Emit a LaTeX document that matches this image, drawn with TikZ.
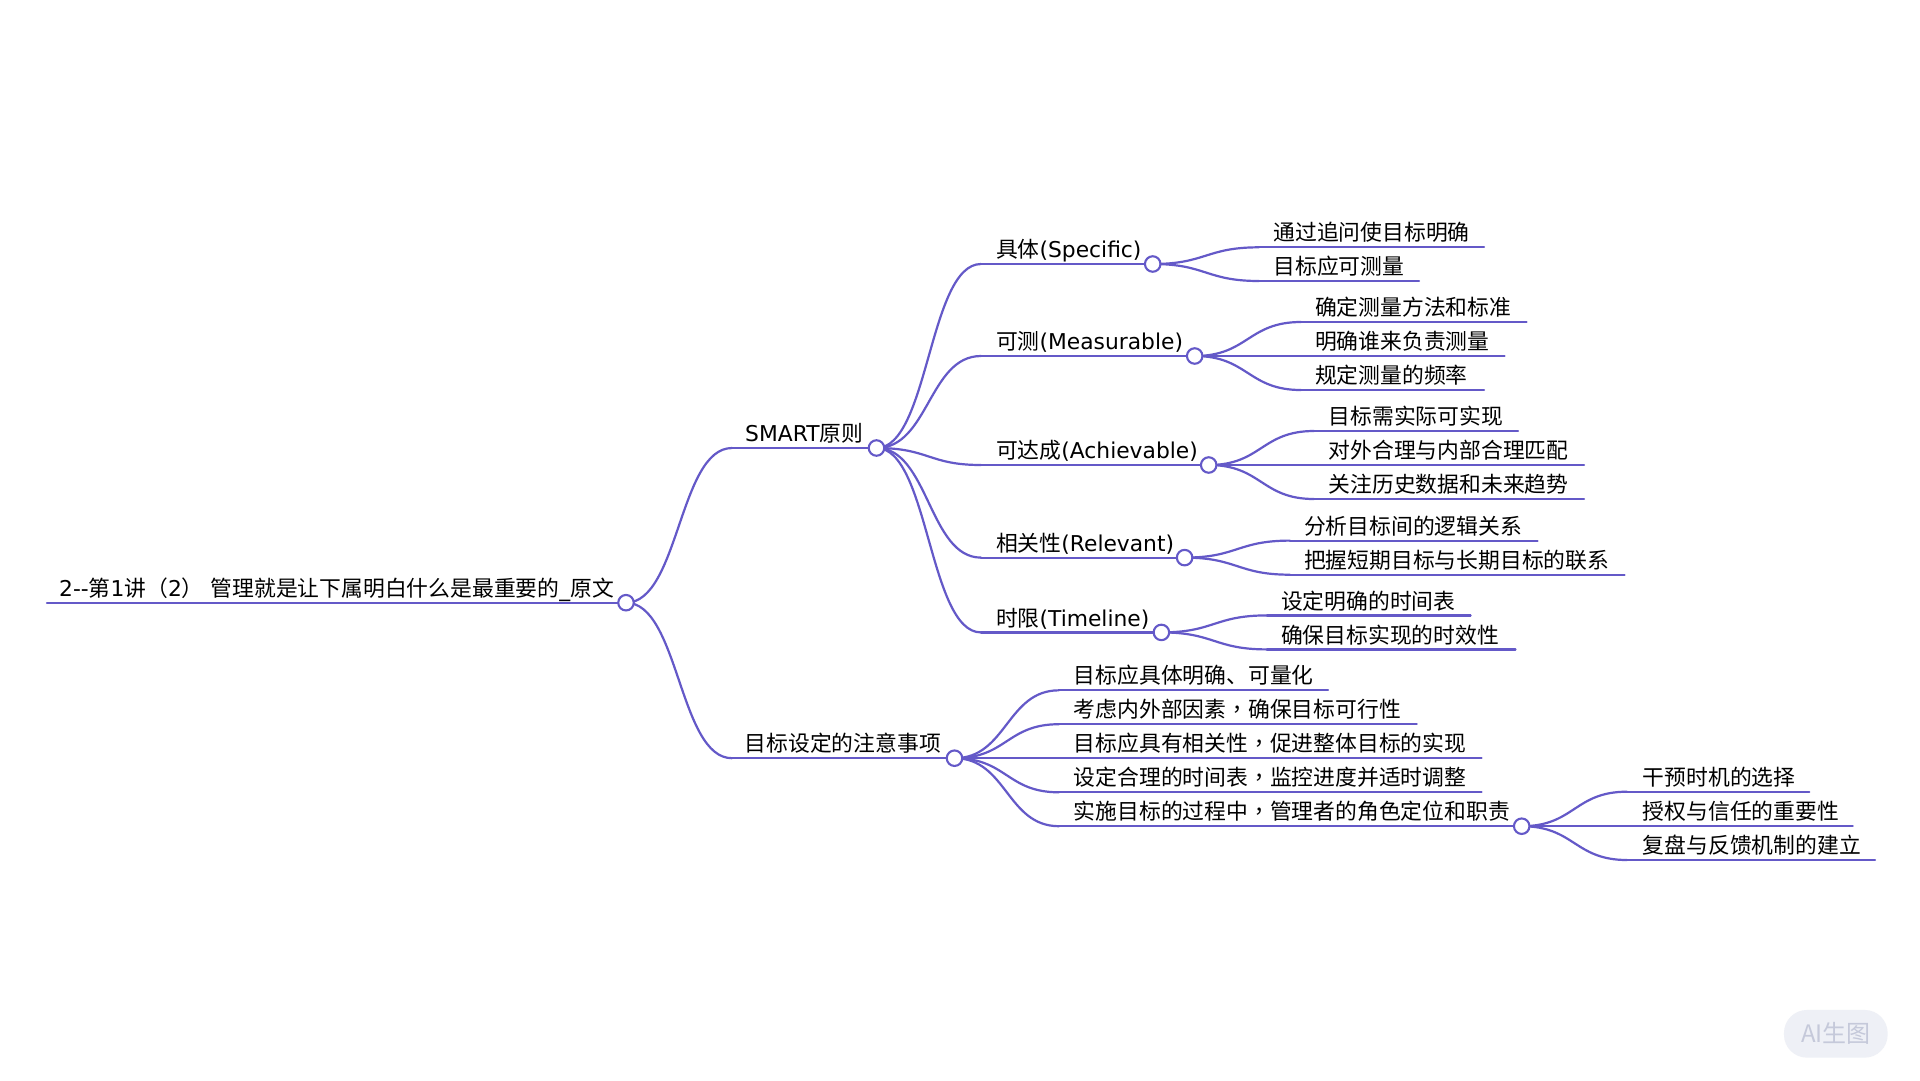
\documentclass[tikz,border=0pt]{standalone}
\usepackage{fontspec}
\usetikzlibrary{calc,backgrounds}
\setmainfont{DejaVu Sans}
\newfontfamily\cjk{Noto Sans CJK SC}
\newfontfamily\cjktc{Noto Sans CJK TC}
\newcommand{\Z}[1]{{\cjk #1}}
\newcommand{\CM}{{\cjktc ，}}
\definecolor{mmline}{HTML}{6459C8}
\definecolor{pillfill}{HTML}{EEF0F6}
\definecolor{pilltext}{HTML}{C5C9DA}
\tikzset{
  branch/.style={draw=mmline,line width=2.2pt,line cap=round},
  dotnode/.style={circle,draw=mmline,line width=2.1pt,fill=white,minimum size=15.5pt,inner sep=0pt},
  label/.style={anchor=base west,inner sep=0pt,font=\fontsize{21.8pt}{24pt}\selectfont,text=black},
  pill/.style={rounded corners=23pt,fill=pillfill,minimum width=103.7pt,minimum height=47.7pt,inner sep=0pt},
  pilllabel/.style={font=\fontsize{24pt}{26pt}\selectfont,text=pilltext}
}
% #1 name, #2 line start x, #3 text x, #4 line end x, #5 y, #6 text
\newcommand{\leafnode}[6]{%
  \coordinate (#1-s) at (#2,#5);
  \coordinate (#1-e) at (#4,#5);
  \node[label] (#1) at (#3,#5-6.4) {#6};
  \draw[branch] (#1-s) -- (#1-e);
}
% branch with a circle: #4 = circle centre x
\newcommand{\hubnode}[6]{%
  \coordinate (#1-s) at (#2,#5);
  \node[dotnode] (#1-c) at (#4,#5) {};
  \node[label] (#1) at (#3,#5-6.4) {#6};
  \begin{pgfonlayer}{background}
  \draw[branch] (#1-s) -- (#1-c.center);
  \end{pgfonlayer}
}
% #1 parent hub, #2 child; the curve leaves from under the parent's circle
\newcommand{\linkto}[2]{%
  \begin{pgfonlayer}{background}
  \draw[branch] let \p1=(#1-c.center), \p2=(#2-s) in
    (\p1) .. controls ({0.5*\x1+0.5*\x2},\y1) and ({0.5*\x1+0.5*\x2},\y2) .. (\p2);
  \end{pgfonlayer}
}
\begin{document}
\begin{tikzpicture}[x=1pt,y=-1pt]
\useasboundingbox (0,0) rectangle (1920,1080);
\begin{pgfonlayer}{background}
\fill[white] (0,0) rectangle (1920,1080);
\end{pgfonlayer}

\hubnode{root}{47}{59}{626}{602.7}{2-{}-\Z{第}1\Z{讲（}2\Z{）} \Z{管理就是让下属明白什么是最重要的}\_\Z{原文}}

\hubnode{smart}{732}{745}{876.5}{448}{SMART\Z{原则}}
\hubnode{note}{732}{744.5}{954.5}{758.2}{\Z{目标设定的注意事项}}

\hubnode{spec}{981}{995.8}{1152.7}{264}{\Z{具体}(Specific)}
\hubnode{meas}{981}{995.8}{1194.7}{356}{\Z{可测}(Measurable)}
\hubnode{achi}{981}{995.8}{1208.7}{465}{\Z{可达成}(Achievable)}
\hubnode{rele}{981}{995.8}{1184.6}{557.6}{\Z{相关性}(Relevant)}
\hubnode{time}{981}{995.8}{1161.4}{632.4}{\Z{时限}(Timeline)}

\leafnode{s1}{1259}{1273.3}{1484}{247.3}{\Z{通过追问使目标明确}}
\leafnode{s2}{1259}{1273.3}{1419}{281}{\Z{目标应可测量}}

\leafnode{m1}{1301}{1314.8}{1526.5}{322}{\Z{确定测量方法和标准}}
\leafnode{m2}{1301}{1314.8}{1504.5}{356}{\Z{明确谁来负责测量}}
\leafnode{m3}{1301}{1314.8}{1484}{390}{\Z{规定测量的频率}}

\leafnode{a1}{1314}{1328.5}{1518}{431}{\Z{目标需实际可实现}}
\leafnode{a2}{1314}{1328.5}{1584}{465}{\Z{对外合理与内部合理匹配}}
\leafnode{a3}{1314}{1328.5}{1584}{499}{\Z{关注历史数据和未来趋势}}

\leafnode{r1}{1290}{1303.8}{1537.5}{540.6}{\Z{分析目标间的逻辑关系}}
\leafnode{r2}{1290}{1303.8}{1624.5}{574.7}{\Z{把握短期目标与长期目标的联系}}

\leafnode{t1}{1267}{1280.8}{1470.6}{615.4}{\Z{设定明确的时间表}}
\leafnode{t2}{1267}{1280.8}{1515.5}{649.4}{\Z{确保目标实现的时效性}}

\leafnode{n1}{1059}{1073.6}{1328}{690.3}{\Z{目标应具体明确、可量化}}
\leafnode{n2}{1059}{1073.6}{1416.7}{724.2}{\Z{考虑内外部因素}\CM\Z{确保目标可行性}}
\leafnode{n3}{1059}{1073.6}{1481.6}{758.2}{\Z{目标应具有相关性}\CM\Z{促进整体目标的实现}}
\leafnode{n4}{1059}{1073.6}{1481.6}{792.3}{\Z{设定合理的时间表}\CM\Z{监控进度并适时调整}}
\hubnode{n5}{1059}{1073.6}{1521.7}{826.2}{\Z{实施目标的过程中}\CM\Z{管理者的角色定位和职责}}

\leafnode{k1}{1627}{1642.7}{1809.3}{791.7}{\Z{干预时机的选择}}
\leafnode{k2}{1627}{1642.7}{1852.7}{826.2}{\Z{授权与信任的重要性}}
\leafnode{k3}{1627}{1642.7}{1875}{860}{\Z{复盘与反馈机制的建立}}

\linkto{root}{smart}
\linkto{root}{note}
\linkto{smart}{spec}
\linkto{smart}{meas}
\linkto{smart}{achi}
\linkto{smart}{rele}
\linkto{smart}{time}
\linkto{spec}{s1}
\linkto{spec}{s2}
\linkto{meas}{m1}
\linkto{meas}{m2}
\linkto{meas}{m3}
\linkto{achi}{a1}
\linkto{achi}{a2}
\linkto{achi}{a3}
\linkto{rele}{r1}
\linkto{rele}{r2}
\linkto{time}{t1}
\linkto{time}{t2}
\linkto{note}{n1}
\linkto{note}{n2}
\linkto{note}{n3}
\linkto{note}{n4}
\linkto{note}{n5}
\linkto{n5}{k1}
\linkto{n5}{k2}
\linkto{n5}{k3}

\node[pill] (wm) at (1835.8,1033.8) {};
\node[pilllabel] (wmt) at (wm.center) {\cjk AI生图};
\end{tikzpicture}
\end{document}
